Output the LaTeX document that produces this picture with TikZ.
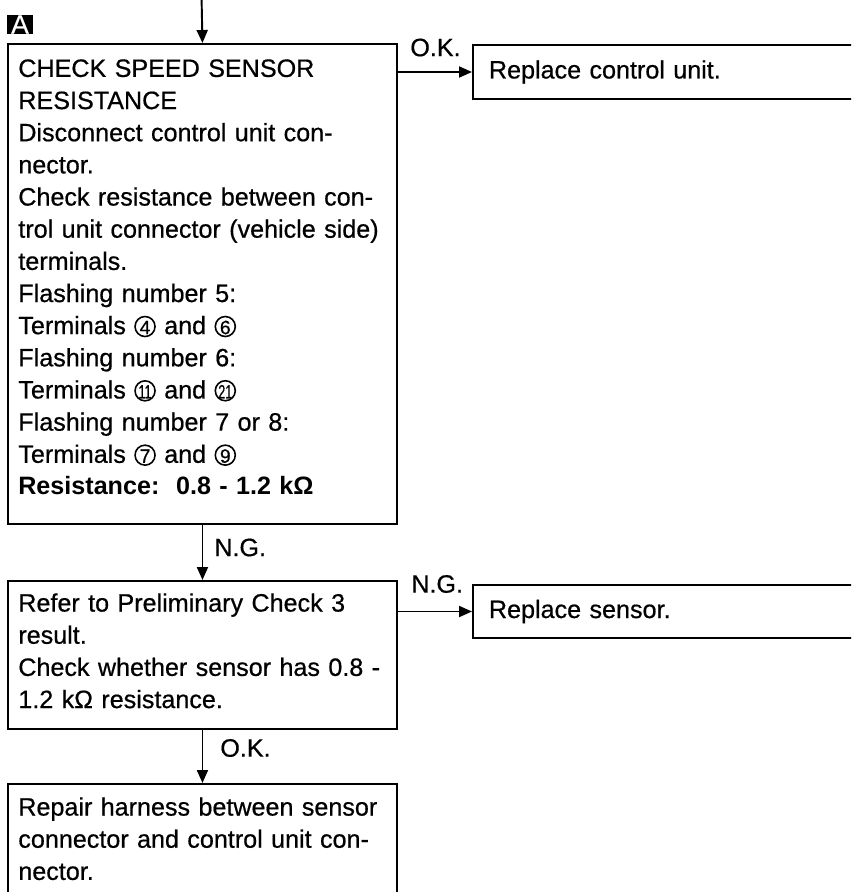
\documentclass[tikz,border=0pt]{standalone}
\usepackage{fontspec}
\setmainfont{Liberation Sans}[UprightFeatures={FakeBold=0.6}]
\usepackage{graphicx}
\usetikzlibrary{arrows.meta}

\newcommand{\trm}[1]{\tikz[baseline=(trmnum.base)]{\node[inner sep=0pt,text width=,align=center,font=\fontsize{11}{11}\selectfont] (trmnum) {#1};\draw[line width=0.9pt] ([yshift=0.02cm]trmnum.center) circle (0.2cm);}}

\begin{document}
\begin{tikzpicture}[
  box/.style={draw,line width=1.1pt,inner sep=0pt,anchor=north west},
  txt/.style={anchor=north west,inner sep=0pt,align=left,text width=7.6cm,font=\fontsize{14.3}{18.3}\selectfont},
  side/.style={draw,line width=1.1pt,anchor=west,inner xsep=0.32cm,inner ysep=0pt,text width=7.5cm,align=left,font=\fontsize{14.3}{18.3}\selectfont},
  lbl/.style={anchor=west,inner sep=0pt,font=\fontsize{14.3}{16}\selectfont},
  flow/.style={line width=1.1pt,-{Triangle[length=0.26cm,width=0.22cm]}}]
\useasboundingbox (0.000,0.000) rectangle (17.020,-17.840);
\clip (0.000,0.000) rectangle (17.020,-17.840);
\node[fill=black,text=white,inner sep=0pt,minimum width=0.520cm,minimum height=0.380cm,font=\fontsize{15}{15}\selectfont] (mark) at (0.400,-0.490) {A};
\node[box,minimum width=7.780cm,minimum height=9.600cm] (chk) at (0.140,-0.860) {};
\node[txt] (chktxt) at (0.360,-1.180) {CHECK SPEED SENSOR\\
RESISTANCE\\
Disconnect control unit con-\\
nector.\\
Check resistance between con-\\
trol unit connector (vehicle side)\\
terminals.\\
Flashing number 5:\\
Terminals \trm{4} and \trm{6}\\
Flashing number 6:\\
Terminals \trm{\scalebox{0.65}[1]{11}} and \trm{\scalebox{0.65}[1]{21}}\\
Flashing number 7 or 8:\\
Terminals \trm{7} and \trm{9}\\
\textbf{Resistance:\ \ 0.8 - 1.2 kΩ}};
\node[side,minimum height=1.080cm] (ctrl) at (9.440,-1.440) {Replace control unit.};
\node[box,minimum width=7.780cm,minimum height=2.960cm] (pre) at (0.140,-11.600) {};
\node[txt] (pretxt) at (0.360,-11.860) {Refer to Preliminary Check 3\\
result.\\
Check whether sensor has 0.8 -\\
1.2 kΩ resistance.};
\node[side,minimum height=1.060cm] (sens) at (9.440,-12.230) {Replace sensor.};
\node[box,minimum width=7.780cm,minimum height=3.000cm] (rep) at (0.140,-15.660) {};
\node[txt] (reptxt) at (0.360,-15.940) {Repair harness between sensor\\
connector and control unit con-\\
nector.};
\coordinate (entry) at (4.030,0.100);
\draw[flow] (entry) -- (chk.north);
\draw[flow] (chk.east |- ctrl.west) -- (ctrl.west);
\draw[flow] (chk.south) -- (pre.north);
\draw[flow] (pre.east |- sens.west) -- (sens.west);
\draw[flow] (pre.south) -- (rep.north);
\node[lbl] (okA) at (8.200,-0.950) {O.K.};
\node[lbl] (ngA) at (4.280,-10.950) {N.G.};
\node[lbl] (ngB) at (8.220,-11.680) {N.G.};
\node[lbl] (okB) at (4.400,-14.960) {O.K.};
\end{tikzpicture}
\end{document}
